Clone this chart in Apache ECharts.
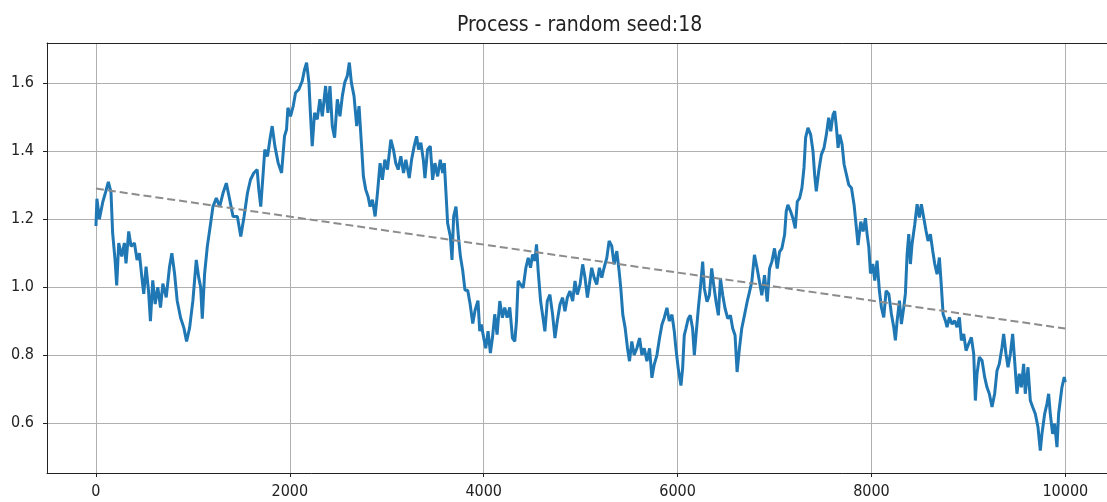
<!DOCTYPE html>
<html>
<head>
<meta charset="utf-8">
<script src="https://cdn.jsdelivr.net/npm/echarts@6/dist/echarts.min.js"></script>
<style>
  html, body { margin: 0; padding: 0; background: #fff; }
  #chart { width: 1107px; height: 502px; }
</style>
</head>
<body>
<div id="chart"></div>
<script>
// process values (step index / value)
const steps = [
  0, 10, 35, 70, 100, 128, 155, 172, 197, 214, 235, 266, 293, 310, 338, 362, 397, 424, 448, 473,
  493, 517, 542, 562, 586, 611, 638, 666, 690, 725, 759, 783, 811, 838, 873, 907, 935, 966, 1000, 1035,
  1059, 1080, 1097, 1121, 1149, 1183, 1207, 1242, 1276, 1311, 1345, 1380, 1414, 1459, 1494, 1528, 1563, 1594, 1628, 1663,
  1680, 1700, 1725, 1742, 1770, 1794, 1818, 1846, 1880, 1915, 1945, 1966, 1980, 2007, 2035, 2059, 2093, 2128, 2152, 2173,
  2197, 2214, 2231, 2255, 2283, 2310, 2335, 2369, 2393, 2414, 2438, 2462, 2490, 2517, 2542, 2566, 2593, 2614, 2635, 2662,
  2690, 2714, 2738, 2759, 2783, 2807, 2828, 2852, 2880, 2904, 2931, 2955, 2980, 3007, 3042, 3069, 3093, 3118, 3145, 3173,
  3197, 3232, 3256, 3283, 3308, 3328, 3352, 3377, 3394, 3421, 3449, 3473, 3497, 3525, 3552, 3577, 3594, 3611, 3628, 3656,
  3673, 3690, 3714, 3739, 3760, 3783, 3807, 3835, 3859, 3887, 3911, 3941, 3959, 3976, 4000, 4021, 4045, 4069, 4090, 4114,
  4138, 4166, 4193, 4217, 4242, 4269, 4297, 4321, 4338, 4355, 4380, 4407, 4435, 4459, 4483, 4504, 4528, 4545, 4562, 4587,
  4607, 4631, 4656, 4683, 4711, 4735, 4759, 4787, 4814, 4838, 4863, 4890, 4918, 4942, 4966, 4994, 5021, 5045, 5070, 5090,
  5114, 5139, 5166, 5194, 5218, 5242, 5270, 5294, 5321, 5345, 5373, 5397, 5414, 5435, 5459, 5483, 5504, 5528, 5552, 5580,
  5608, 5632, 5656, 5684, 5711, 5735, 5759, 5787, 5814, 5839, 5863, 5890, 5914, 5942, 5966, 5983, 6007, 6035, 6052, 6069,
  6086, 6110, 6131, 6155, 6173, 6190, 6214, 6235, 6259, 6276, 6304, 6328, 6352, 6373, 6397, 6421, 6442, 6466, 6490, 6518,
  6545, 6569, 6593, 6614, 6638, 6662, 6690, 6718, 6742, 6766, 6793, 6821, 6845, 6869, 6897, 6925, 6949, 6973, 7000, 7028,
  7052, 7076, 7104, 7121, 7138, 7166, 7190, 7214, 7235, 7259, 7283, 7304, 7321, 7345, 7373, 7397, 7414, 7431, 7456, 7483,
  7511, 7535, 7559, 7580, 7604, 7621, 7639, 7656, 7673, 7697, 7718, 7742, 7766, 7794, 7821, 7845, 7862, 7890, 7914, 7938,
  7955, 7973, 7990, 8014, 8034, 8058, 8082, 8103, 8127, 8151, 8179, 8206, 8230, 8247, 8265, 8289, 8309, 8333, 8350, 8368,
  8385, 8402, 8419, 8447, 8471, 8495, 8515, 8539, 8563, 8584, 8608, 8632, 8653, 8677, 8701, 8722, 8739, 8763, 8780, 8804,
  8832, 8859, 8883, 8907, 8928, 8952, 8976, 9003, 9031, 9055, 9072, 9089, 9113, 9141, 9168, 9192, 9216, 9244, 9271, 9295,
  9319, 9347, 9364, 9388, 9409, 9433, 9457, 9477, 9501, 9525, 9546, 9570, 9587, 9615, 9639, 9663, 9690, 9718, 9742, 9759,
  9787, 9811, 9828, 9845, 9869, 9890, 9914, 9931, 9948, 9965, 9989, 9999
];
const values = [
  1.18, 1.26, 1.20, 1.25, 1.28, 1.31, 1.28, 1.16, 1.08, 1.005, 1.13, 1.09, 1.13, 1.07, 1.164, 1.12, 1.13, 1.08, 1.10, 1.03,
  0.98, 1.06, 0.99, 0.90, 1.02, 0.95, 1.00, 0.94, 1.01, 0.97, 1.06, 1.10, 1.04, 0.96, 0.91, 0.88, 0.84, 0.88, 0.96, 1.08,
  1.03, 1.00, 0.907, 1.04, 1.12, 1.188, 1.237, 1.262, 1.237, 1.277, 1.306, 1.257, 1.208, 1.208, 1.149, 1.208, 1.277, 1.316, 1.336, 1.346,
  1.287, 1.237, 1.336, 1.405, 1.385, 1.434, 1.474, 1.415, 1.365, 1.336, 1.444, 1.464, 1.528, 1.503, 1.533, 1.572, 1.582, 1.607, 1.641, 1.661,
  1.602, 1.503, 1.415, 1.513, 1.494, 1.553, 1.503, 1.592, 1.513, 1.592, 1.474, 1.44, 1.553, 1.503, 1.563, 1.602, 1.622, 1.661, 1.602, 1.563,
  1.474, 1.533, 1.425, 1.326, 1.287, 1.267, 1.237, 1.257, 1.208, 1.277, 1.365, 1.316, 1.375, 1.346, 1.434, 1.405, 1.365, 1.346, 1.385, 1.336,
  1.375, 1.321, 1.375, 1.415, 1.444, 1.405, 1.425, 1.375, 1.321, 1.405, 1.415, 1.316, 1.365, 1.326, 1.375, 1.336, 1.365, 1.277, 1.188, 1.149,
  1.08, 1.208, 1.237, 1.149, 1.09, 1.05, 0.991, 0.991, 0.952, 0.893, 0.932, 0.96, 0.87, 0.89, 0.85, 0.82, 0.87, 0.806, 0.85, 0.92,
  0.86, 0.959, 0.91, 0.94, 0.91, 0.94, 0.85, 0.84, 0.90, 1.018, 1.008, 0.998, 1.057, 1.086, 1.057, 1.096, 1.077, 1.126, 1.047, 0.959,
  0.919, 0.87, 0.959, 0.978, 0.919, 0.85, 0.90, 0.949, 0.969, 0.929, 0.969, 0.988, 0.959, 1.018, 0.978, 1.008, 1.067, 1.028, 0.969, 1.008,
  1.057, 1.028, 1.008, 1.057, 1.028, 1.057, 1.086, 1.136, 1.121, 1.067, 1.106, 1.047, 0.998, 0.919, 0.88, 0.821, 0.782, 0.84, 0.80, 0.82,
  0.85, 0.80, 0.82, 0.782, 0.82, 0.733, 0.772, 0.80, 0.85, 0.89, 0.91, 0.939, 0.90, 0.919, 0.87, 0.819, 0.76, 0.71, 0.76, 0.858,
  0.878, 0.907, 0.917, 0.878, 0.80, 0.858, 0.937, 0.996, 1.075, 0.996, 0.957, 0.976, 1.055, 1.006, 0.957, 0.917, 1.026, 0.976, 0.937, 0.907,
  0.917, 0.878, 0.858, 0.75, 0.819, 0.878, 0.917, 0.957, 0.986, 1.016, 1.095, 1.055, 1.016, 0.976, 1.035, 0.957, 1.055, 1.075, 1.114, 1.055,
  1.104, 1.114, 1.154, 1.223, 1.242, 1.223, 1.203, 1.173, 1.252, 1.262, 1.292, 1.351, 1.44, 1.469, 1.449, 1.40, 1.331, 1.282, 1.341, 1.39,
  1.41, 1.449, 1.499, 1.459, 1.508, 1.518, 1.469, 1.41, 1.449, 1.42, 1.361, 1.331, 1.301, 1.292, 1.242, 1.173, 1.124, 1.193, 1.164, 1.203,
  1.156, 1.117, 1.04, 1.068, 1.019, 1.078, 0.989, 0.94, 0.911, 0.989, 0.98, 0.921, 0.882, 0.843, 0.901, 0.96, 0.891, 0.94, 0.98, 1.097,
  1.156, 1.068, 1.127, 1.185, 1.244, 1.205, 1.244, 1.205, 1.166, 1.136, 1.156, 1.107, 1.068, 1.038, 1.087, 0.999, 0.921, 0.901, 0.882, 0.911,
  0.891, 0.901, 0.882, 0.911, 0.843, 0.862, 0.813, 0.833, 0.852, 0.803, 0.666, 0.745, 0.794, 0.784, 0.735, 0.705, 0.686, 0.647, 0.686, 0.754,
  0.774, 0.823, 0.862, 0.803, 0.764, 0.803, 0.862, 0.784, 0.686, 0.745, 0.705, 0.774, 0.686, 0.764, 0.666, 0.647, 0.627, 0.588, 0.519, 0.568,
  0.627, 0.657, 0.686, 0.627, 0.568, 0.598, 0.529, 0.627, 0.666, 0.705, 0.735, 0.72
];
// dashed trend line end points
const trendSteps = [0, 9999];
const trendValues = [1.29, 0.878];

const xTicks = [0, 2000, 4000, 6000, 8000, 10000];
const yTicks = [0.6, 0.8, 1.0, 1.2, 1.4, 1.6];

const FONT = '"DejaVu Sans Condensed", "Liberation Sans Narrow", "DejaVu Sans", sans-serif';
const INK = "#222";
const GRID = "#b0b0b0";

const chart = echarts.init(document.getElementById("chart"), null, { renderer: "canvas" });

const option = {
    animation: false,
    backgroundColor: "#fff",
    title: {
        text: "Process - random seed:18",
        left: 452,
        top: 10,
        textStyle: { fontFamily: FONT, fontSize: 21, fontWeight: "normal", color: INK }
    },
    // plot runs past the right edge of the picture, so no right spine
    grid: { left: 47, right: 0, top: 43, bottom: 29 },
    xAxis: [
        {
            type: "value",
            min: -505,
            max: 10430,
            axisLine: { show: true, onZero: false, lineStyle: { color: INK, width: 1 } },
            axisTick: { show: true, inside: false, length: 4, customValues: xTicks, lineStyle: { color: INK } },
            axisLabel: {
                customValues: xTicks,
                margin: 11,
                formatter: v => String(v),
                fontFamily: FONT, fontSize: 16, color: INK
            },
            splitLine: { show: true, lineStyle: { color: GRID, width: 1 } }
        },
        {
            // top spine only
            type: "value",
            position: "top",
            min: -505,
            max: 10430,
            axisLine: { show: true, onZero: false, lineStyle: { color: INK, width: 1 } },
            axisTick: { show: false },
            axisLabel: { show: false },
            splitLine: { show: false }
        }
    ],
    yAxis: {
        type: "value",
        min: 0.4527,
        max: 1.7187,
        axisLine: { show: true, onZero: false, lineStyle: { color: INK, width: 1 } },
        axisTick: { show: true, inside: false, length: 4, customValues: yTicks, lineStyle: { color: INK } },
        axisLabel: {
            customValues: yTicks,
            margin: 13,
            formatter: v => v.toFixed(1),
            fontFamily: FONT, fontSize: 16, color: INK
        },
        splitLine: { show: true, lineStyle: { color: GRID, width: 1 } }
    },
    series: [
        {
            name: "process",
            type: "line",
            data: steps.map((s, i) => [s, values[i]]),
            showSymbol: false,
            lineStyle: { color: "#1f77b4", width: 3 },
            z: 2
        },
        {
            name: "trend",
            type: "line",
            data: trendSteps.map((s, i) => [s, trendValues[i]]),
            showSymbol: false,
            lineStyle: { color: "#8c8c8c", width: 2, type: [8, 4] },
            z: 3
        }
    ]
};

chart.setOption(option);
</script>
</body>
</html>
